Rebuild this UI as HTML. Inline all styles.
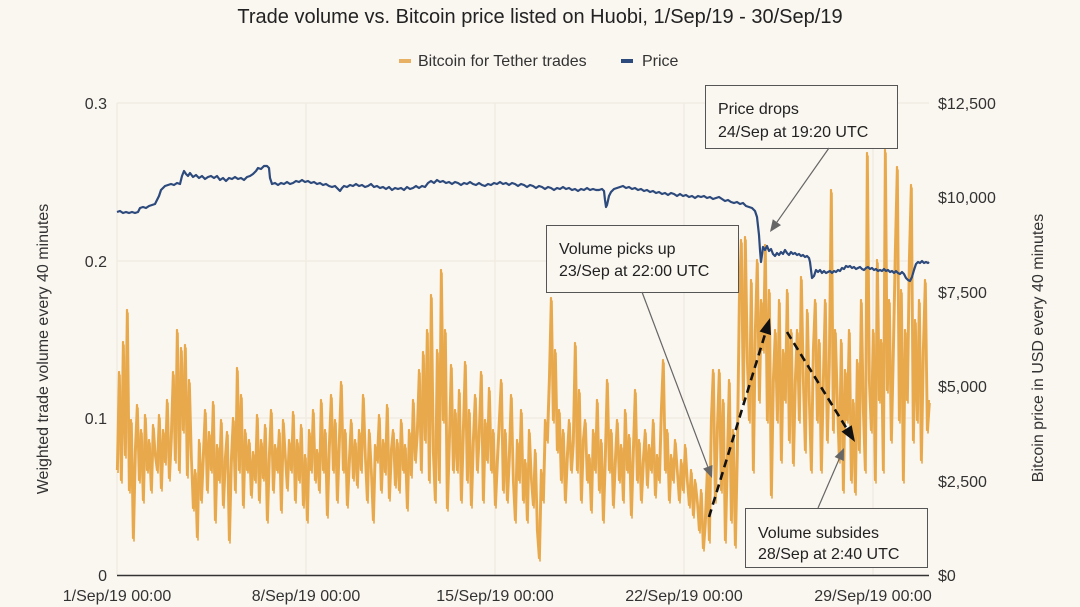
<!DOCTYPE html>
<html><head><meta charset="utf-8"><style>
html,body{margin:0;padding:0;background:#faf6f0;}
svg{display:block;font-family:"Liberation Sans",Arial,sans-serif;}
</style></head><body>
<svg width="1080" height="607" viewBox="0 0 1080 607" xmlns="http://www.w3.org/2000/svg" xmlns:xlink="http://www.w3.org/1999/xlink">
<rect x="0" y="0" width="1080" height="607" fill="#faf6f0"/>
<text x="540" y="23" text-anchor="middle" font-size="20" fill="#222">Trade volume vs. Bitcoin price listed on Huobi, 1/Sep/19 - 30/Sep/19</text>
<line x1="399" y1="61" x2="411" y2="61" stroke="#e8b063" stroke-width="4"/>
<text x="418" y="66" font-size="16" fill="#333">Bitcoin for Tether trades</text>
<line x1="621" y1="61" x2="633" y2="61" stroke="#2d4a7c" stroke-width="4"/>
<text x="642" y="66" font-size="16" fill="#333">Price</text>
<g stroke="#efe8dd" stroke-width="1">
<line x1="117" y1="103" x2="929" y2="103"/><line x1="117" y1="261" x2="929" y2="261"/><line x1="117" y1="418" x2="929" y2="418"/>
<line x1="117" y1="103" x2="117" y2="575"/><line x1="306" y1="103" x2="306" y2="575"/><line x1="495" y1="103" x2="495" y2="575"/><line x1="684" y1="103" x2="684" y2="575"/><line x1="873" y1="103" x2="873" y2="575"/>
</g>
<g font-size="16" fill="#333" text-anchor="end">
<text x="107" y="109">0.3</text><text x="107" y="267">0.2</text><text x="107" y="424">0.1</text><text x="107" y="581">0</text>
</g>
<g font-size="16" fill="#333">
<text x="938" y="109">$12,500</text><text x="938" y="203">$10,000</text><text x="938" y="298">$7,500</text><text x="938" y="392">$5,000</text><text x="938" y="487">$2,500</text><text x="938" y="581">$0</text>
</g>
<g font-size="16" fill="#333" text-anchor="middle">
<text x="117" y="601">1/Sep/19 00:00</text><text x="306" y="601">8/Sep/19 00:00</text><text x="495" y="601">15/Sep/19 00:00</text><text x="684" y="601">22/Sep/19 00:00</text><text x="873" y="601">29/Sep/19 00:00</text>
</g>
<text transform="translate(48,349) rotate(-90)" text-anchor="middle" font-size="16" fill="#333">Weighted trade volume every 40 minutes</text>
<text transform="translate(1043,348) rotate(-90)" text-anchor="middle" font-size="16" fill="#333">Bitcoin price in USD every 40 minutes</text>

<g fill="none" stroke="#e8a94c" stroke-width="2.2" stroke-linejoin="round">
<path id="vol" d="M117,470 119,372 121,480 123,342 125,455 127,310 129,490 131,420 133,538 135,450
137,405 139,480 141,430 143,500 145,415 147,470 149,440 151,490 153,425 155,455
157,470 159,415 161,488 163,430 165,462 167,400 169,478 171,435 173,372 175,460
177,330 179,470 181,348 183,430 185,345 187,475 189,380 191,455 193,508 195,470
197,537 199,440 201,500 203,455 205,410 207,490 209,432 211,470 213,402 215,520
217,445 219,480 221,420 223,505 225,458 227,432 229,540 231,460 233,418 235,490
237,368 239,470 241,395 243,505 245,430 247,470 249,440 251,495 253,452 255,480
257,415 259,500 261,440 263,478 265,425 267,520 269,455 271,410 273,490 275,445
277,470 279,430 281,510 283,420 285,455 287,488 289,440 291,470 293,412 295,500
297,440 299,480 301,425 303,505 305,455 307,520 309,430 311,470 313,410 315,480
317,450 319,490 321,400 323,470 325,430 327,515 329,445 331,395 333,470 335,420
337,500 339,440 341,382 343,470 345,430 347,505 349,460 351,420 353,478 355,440
357,485 359,430 361,470 363,395 365,455 367,500 369,430 371,470 373,520 375,445
377,460 379,415 381,490 383,440 385,472 387,405 389,498 391,450 393,430 395,485
397,440 399,490 401,420 403,470 405,445 407,508 409,430 411,475 413,400 415,460
417,430 419,370 421,470 423,352 425,440 427,330 429,480 431,295 433,452 435,500
437,350 439,480 441,270 443,420 445,330 447,508 449,440 451,365 453,470 455,410
457,470 459,390 461,500 463,430 465,362 467,480 469,410 471,505 473,440 475,395
477,470 479,430 481,372 483,500 485,420 487,460 489,388 491,470 493,430 495,505
497,460 499,420 501,380 503,490 505,430 507,500 509,455 511,395 513,480 515,520
517,440 519,480 521,410 523,500 525,460 527,520 529,430 531,478 533,505 535,450
537,530 539,558 541,470 543,500 545,420 547,440 549,380 551,298 553,420 555,350
557,450 559,410 561,480 563,430 565,500 567,455 569,420 571,470 573,440 575,343
577,470 579,390 581,500 583,440 585,420 587,480 589,455 591,510 593,430 595,470
597,400 599,490 601,440 603,520 605,455 607,380 609,470 611,430 613,505 615,460
617,420 619,480 621,445 623,500 625,410 627,470 629,435 631,515 633,450 635,390
637,480 639,440 641,500 643,460 645,430 647,485 649,445 651,470 653,420 655,495
657,455 659,480 661,410 663,360 665,470 667,430 669,500 671,455 673,480 675,440
677,470 679,500 681,460 683,490 685,445 687,480 689,505 691,470 693,515 695,480
697,500 699,530 701,490 703,548 705,520 707,470 709,540 711,420 713,370 715,500
717,430 719,370 721,490 723,400 725,540 727,460 729,380 731,520 733,430 735,545
737,450 739,300 741,240 743,400 745,237 747,360 749,420 751,280 753,470 755,330
757,260 759,400 761,300 763,350 765,245 767,420 769,290 771,495 773,380 775,330
777,420 779,300 781,460 783,350 785,400 787,290 789,440 791,330 793,463 795,380
797,330 799,420 801,277 803,380 805,450 807,310 809,400 811,470 813,350 815,300
817,420 819,340 821,470 823,380 825,300 827,440 829,360 831,190 833,430 835,330
837,400 839,460 841,340 843,490 845,370 847,420 849,330 851,480 853,400 855,492
857,360 859,450 861,300 863,410 865,470 867,153 869,380 871,430 873,330 875,480
877,260 879,400 881,340 883,470 885,150 887,390 889,300 891,440 893,350 895,250
897,167 899,420 901,290 903,480 905,330 907,400 909,260 911,185 913,440 915,320
917,420 919,300 921,460 923,350 925,280 927,430 929,400"/>
<use xlink:href="#vol" href="#vol" transform="translate(1,3)" stroke-width="1.6"/>
</g>

<path fill="none" stroke="#2d4a7c" stroke-width="2.2" stroke-linejoin="round" d="M117,212 120,211 123,213 126,212 129,213 132,212 135,213 138,212 140,208 143,207 146,208 149,206 152,205 155,204 157,200 159,196 161,190 163,188 165,186 168,185 171,184 174,185 177,183 180,184 182,176 184,171 186,174 188,176 190,173 193,177 196,175 199,178 202,176 205,179 208,177 211,176 214,178 217,176 220,180 223,178 226,181 229,178 232,179 235,177 238,179 241,178 244,180 247,177 250,176 253,174 256,171 258,168 261,169 264,166 267,166 269,168 270,178 272,184 275,183 278,185 281,183 284,184 287,182 290,184 293,183 296,181 299,182 302,180 305,182 308,181 311,183 314,182 317,184 320,183 323,185 326,184 329,186 332,187 335,186 338,189 340,191 342,188 344,186 347,187 350,185 353,186 356,184 359,186 362,185 365,187 368,186 371,184 374,187 377,186 380,188 383,187 386,189 389,187 392,190 395,188 398,189 401,188 404,190 407,187 410,189 413,188 416,186 419,188 422,186 425,187 428,183 431,181 434,183 437,180 440,182 443,181 446,183 449,182 452,184 455,182 458,183 461,185 464,183 467,184 470,182 473,184 476,185 479,183 482,185 485,186 488,184 491,185 494,183 497,184 500,182 503,184 506,183 509,185 512,183 515,184 518,186 521,184 524,185 527,187 530,185 533,186 536,188 539,186 542,187 545,189 548,187 551,188 554,190 557,188 560,189 563,187 566,189 569,188 572,190 575,189 578,191 581,189 584,190 587,188 590,190 593,189 596,190 599,190 602,189 604,191 605,200 606,207 607,205 609,196 611,192 614,189 617,188 620,187 623,186 626,188 629,187 632,189 635,188 638,190 641,189 644,191 647,190 650,192 653,191 656,193 659,192 662,194 665,193 668,195 671,193 674,194 677,196 680,194 683,196 686,195 689,197 692,196 695,198 698,196 701,197 704,196 707,198 710,197 713,199 716,198 719,197 722,199 725,201 728,200 731,202 734,203 737,202 740,204 743,203 746,206 749,207 752,208 755,211 757,217 759,235 760,250 761,262 762,255 763,247 765,250 767,246 769,251 771,249 773,254 775,256 777,253 779,255 781,252 783,254 785,250 787,253 789,255 791,252 793,254 795,253 797,255 799,254 801,256 803,255 805,257 807,256 809,258 810,262 811,270 812,278 814,276 816,270 818,272 820,270 822,273 824,271 826,273 828,272 830,271 832,273 834,271 836,272 838,270 840,271 842,268 844,269 846,266 848,267 850,266 852,268 854,267 856,269 858,268 860,267 862,269 864,270 866,268 868,267 870,269 872,268 874,270 876,269 878,271 880,270 882,271 884,269 886,271 888,270 890,272 892,271 894,273 896,271 898,273 900,274 902,272 904,274 906,278 908,280 910,281 912,277 914,270 916,264 918,262 920,263 922,261 924,263 926,262 928,263 929,262"/>

<line x1="117" y1="575.5" x2="929" y2="575.5" stroke="#333" stroke-width="1.5"/>
<rect x="705.5" y="85.5" width="192" height="63" fill="#faf6f0" stroke="#555" stroke-width="1"/>
<text x="718" y="114" font-size="16" fill="#222">Price drops</text>
<text x="718" y="137" font-size="16" fill="#222">24/Sep at 19:20 UTC</text>
<rect x="546.5" y="225.5" width="192" height="67" fill="#faf6f0" stroke="#555" stroke-width="1"/>
<text x="559" y="254" font-size="16" fill="#222">Volume picks up</text>
<text x="559" y="276" font-size="16" fill="#222">23/Sep at 22:00 UTC</text>
<rect x="745.5" y="508.5" width="182" height="59" fill="#faf6f0" stroke="#555" stroke-width="1"/>
<text x="758" y="538" font-size="16" fill="#222">Volume subsides</text>
<text x="758" y="559" font-size="16" fill="#222">28/Sep at 2:40 UTC</text>
<g stroke="#666" stroke-width="1.2" fill="#666">
<line x1="829" y1="148" x2="776.9" y2="222.2"/>
<polygon stroke="none" points="770,232 781,225.1 772.8,219.3"/>
<line x1="642" y1="292" x2="707.8" y2="466.8"/>
<polygon stroke="none" points="712,478 712.5,465 703.1,468.6"/>
<line x1="818" y1="508" x2="839.2" y2="459"/>
<polygon stroke="none" points="844,448 843.8,461 834.6,457"/>
</g>
<g stroke="#111" stroke-width="2.6" stroke-dasharray="8,5" fill="none">
<line x1="709" y1="517" x2="765.3" y2="333.3"/>
<line x1="787" y1="332" x2="846.6" y2="428.4"/>
</g>
<polygon fill="#111" points="770,318 771,335.1 759.6,331.5"/>
<polygon fill="#111" points="855,442 851.7,425.2 841.5,431.6"/>
</svg>
</body></html>
